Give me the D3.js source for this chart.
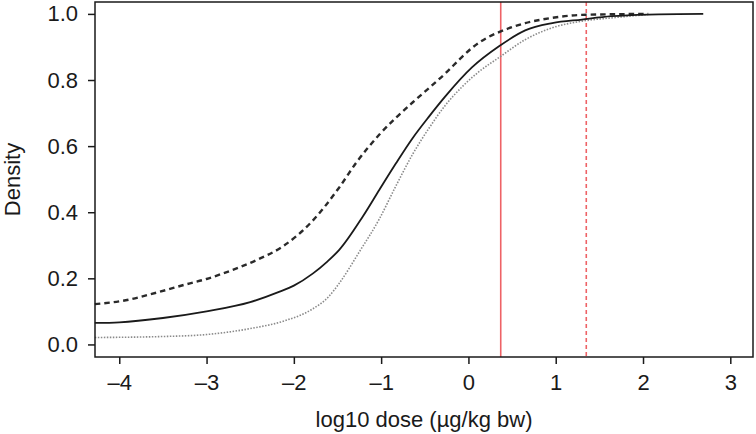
<!DOCTYPE html>
<html>
<head>
<meta charset="utf-8">
<script src="https://cdn.jsdelivr.net/npm/d3@7"></script>
<style>
  html, body { margin: 0; padding: 0; background: #fff; }
  svg text { font-family: "Liberation Sans", Arial, Helvetica, sans-serif; fill: #1a1a1a; }
</style>
</head>
<body>
<svg id="chart" width="756" height="434"></svg>
<script>
// ---- data ----
const solidX = [-4.28, -4.0, -3.5, -3.0, -2.5, -2.17, -2.0, -1.78, -1.62, -1.48, -1.21, -1.02, -0.83, -0.64, -0.45, -0.26, 0.04, 0.35, 0.65, 0.96, 1.3, 1.64, 2.06, 2.69];
const solidY = [0.065, 0.067, 0.08, 0.10, 0.128, 0.159, 0.178, 0.215, 0.25, 0.286, 0.387, 0.468, 0.548, 0.624, 0.69, 0.752, 0.838, 0.902, 0.95, 0.972, 0.983, 0.993, 0.998, 1.0];

const dashedX = [-4.28, -3.96, -3.57, -3.19, -3.0, -2.81, -2.43, -2.13, -1.8, -1.48, -1.29, -1.02, -0.83, -0.64, -0.45, -0.26, -0.1, 0.04, 0.2, 0.37, 0.65, 0.96, 1.3, 2.06];
const dashedY = [0.122, 0.132, 0.157, 0.185, 0.198, 0.215, 0.255, 0.296, 0.37, 0.475, 0.548, 0.635, 0.686, 0.732, 0.776, 0.821, 0.863, 0.897, 0.926, 0.947, 0.972, 0.988, 0.997, 1.0];

const dottedX = [-4.28, -3.5, -3.0, -2.5, -2.1, -1.8, -1.6, -1.48, -1.25, -1.02, -0.83, -0.64, -0.45, -0.26, -0.07, 0.12, 0.35, 0.65, 0.96, 1.3, 1.64, 2.06];
const dottedY = [0.021, 0.024, 0.03, 0.048, 0.072, 0.105, 0.145, 0.185, 0.28, 0.38, 0.48, 0.575, 0.655, 0.725, 0.78, 0.825, 0.868, 0.922, 0.958, 0.978, 0.988, 0.998];

const vlineSolid = 0.37;
const vlineDashed = 1.35;

const xTicks = [-4, -3, -2, -1, 0, 1, 2, 3];
const yTicks = [0.0, 0.2, 0.4, 0.6, 0.8, 1.0];
const xTitle = "log10 dose (\u00B5g/kg bw)";
const yTitle = "Density";

// ---- layout ----
const L = 95, R = 753, T = 2, B = 357;
const svg = d3.select("#chart");
const x = d3.scaleLinear().domain([-4.278, 3.26]).range([L, R]);
const y = d3.scaleLinear().domain([-0.038, 1.036]).range([B, T]);

const toPts = (xs, ys) => xs.map((v, i) => [v, ys[i]]);
const line = d3.line().x(d => x(d[0])).y(d => y(d[1])).curve(d3.curveMonotoneX);

// reference lines
svg.append("line").attr("x1", x(vlineSolid)).attr("x2", x(vlineSolid))
  .attr("y1", T).attr("y2", B).attr("stroke", "#ee6266").attr("stroke-width", 1.6);
svg.append("line").attr("x1", x(vlineDashed)).attr("x2", x(vlineDashed))
  .attr("y1", T).attr("y2", B).attr("stroke", "#ee6266").attr("stroke-width", 1.6)
  .attr("stroke-dasharray", "4,3");

// curves
svg.append("path").datum(toPts(dottedX, dottedY)).attr("d", line)
  .attr("fill", "none").attr("stroke", "#8a8a8a").attr("stroke-width", 1.6)
  .attr("stroke-dasharray", "1.5,1.5");
svg.append("path").datum(toPts(dashedX, dashedY)).attr("d", line)
  .attr("fill", "none").attr("stroke", "#2a2a2a").attr("stroke-width", 2.4)
  .attr("stroke-dasharray", "5.5,4");
svg.append("path").datum(toPts(solidX, solidY)).attr("d", line)
  .attr("fill", "none").attr("stroke", "#1a1a1a").attr("stroke-width", 1.8);

// frame
svg.append("rect").attr("x", L).attr("y", T).attr("width", R - L).attr("height", B - T)
  .attr("fill", "none").attr("stroke", "#1a1a1a").attr("stroke-width", 1.5);

// axes
const xAxis = svg.append("g").attr("transform", `translate(0,${B})`)
  .call(d3.axisBottom(x).tickValues(xTicks).tickSize(7).tickPadding(10).tickSizeOuter(0)
    .tickFormat(d => d < 0 ? "\u2013" + Math.abs(d) : String(d)));
const yAxis = svg.append("g").attr("transform", `translate(${L},0)`)
  .call(d3.axisLeft(y).tickValues(yTicks).tickSize(7).tickPadding(10).tickSizeOuter(0)
    .tickFormat(d3.format(".1f")));
[xAxis, yAxis].forEach(g => {
  g.select(".domain").remove();
  g.selectAll(".tick line").attr("stroke", "#1a1a1a").attr("stroke-width", 1.5);
  g.selectAll(".tick text").attr("font-size", 22).style("fill", "#1a1a1a")
    .attr("font-family", "'Liberation Sans', Arial, sans-serif");
});

// titles
svg.append("text").attr("x", (L + R) / 2).attr("y", 427).attr("text-anchor", "middle")
  .attr("font-size", 22).text(xTitle);
svg.append("text").attr("transform", `translate(20,${(T + B) / 2}) rotate(-90)`)
  .attr("text-anchor", "middle").attr("font-size", 22).text(yTitle);
</script>
</body>
</html>
